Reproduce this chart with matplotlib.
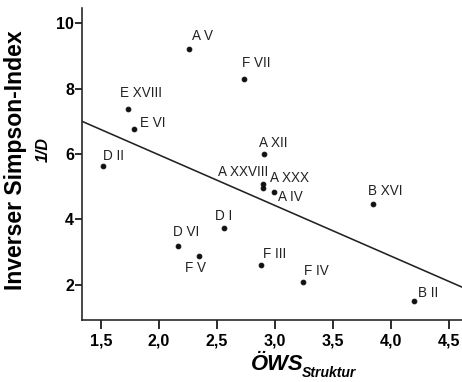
import numpy as np
import matplotlib.pyplot as plt

plt.rcParams['font.family'] = ['Liberation Sans', 'DejaVu Sans']

# data
names = ['A V', 'F VII', 'E XVIII', 'E VI', 'D II', 'A XII', 'A XXVIII', 'A XXX',
         'A IV', 'B XVI', 'F III', 'F IV', 'B II', 'D VI', 'F V', 'D I']
ows = np.array([2.26, 2.73, 1.73, 1.78, 1.52, 2.905, 2.90, 2.90,
                2.99, 3.845, 2.88, 3.24, 4.20, 2.16, 2.345, 2.56])
simpson = np.array([9.21, 8.29, 7.37, 6.76, 5.63, 6.00, 5.08, 4.96,
                    4.84, 4.47, 2.61, 2.09, 1.51, 3.19, 2.89, 3.74])

xticks = [1.5, 2.0, 2.5, 3.0, 3.5, 4.0, 4.5]
yticks = [2, 4, 6, 8, 10]

# label offsets in px (dx, dy, ha)
offsets = {
    'A V': (3, 13, 'left'), 'F VII': (-2, 16, 'left'), 'E XVIII': (-8, 16, 'left'),
    'E VI': (6, 6, 'left'), 'D II': (0, 10, 'left'), 'A XII': (-5, 11, 'left'),
    'A XXVIII': (5, 12, 'right'), 'A XXX': (7, 10, 'left'), 'A IV': (4, -5, 'left'),
    'B XVI': (-5, 13, 'left'), 'F III': (2, 11, 'left'), 'F IV': (1, 11, 'left'),
    'B II': (4, 8, 'left'), 'D VI': (-5, 14, 'left'), 'F V': (-14, -12, 'left'),
    'D I': (-9, 12, 'left'),
}

W, H = 462, 382
fig = plt.figure(figsize=(W / 72, H / 72), dpi=72)
ax = fig.add_axes([82 / W, 62 / H, 380 / W, 312 / H])

xlim = (1.336, 4.612)
ax.set_xlim(xlim)
ax.set_ylim(0.93, 10.46)

ax.scatter(ows, simpson, s=22, c='#111111', zorder=3)

# linear regression
k, d = np.polyfit(ows, simpson, 1)
xs = np.array(xlim)
ax.plot(xs, k * xs + d, color='#222222', lw=1.6)

for n, x, y in zip(names, ows, simpson):
    dx, dy, ha = offsets[n]
    ax.annotate(n, (x, y), xytext=(dx, dy), textcoords='offset points',
                ha=ha, va='center', fontsize=13.5, color='#222222')

ax.spines['top'].set_visible(False)
ax.spines['right'].set_visible(False)
for s in ['left', 'bottom']:
    ax.spines[s].set_linewidth(1.6)
    ax.spines[s].set_color('#222222')

ax.set_xticks(xticks)
ax.set_xticklabels([f'{t:.1f}'.replace('.', ',') for t in xticks])
ax.set_yticks(yticks)
ax.tick_params(axis='x', length=9, width=1.6, pad=4, labelsize=16)
ax.tick_params(axis='y', length=7, width=1.6, pad=1, labelsize=16)
for lab in ax.get_xticklabels() + ax.get_yticklabels():
    lab.set_fontweight('bold')

fig.text(16 / W, 1 - 160 / H, 'Inverser Simpson-Index', rotation=90,
         ha='center', va='center', fontsize=23, fontweight='bold')
fig.text(43 / W, 1 - 150 / H, '1/D', rotation=90, ha='center', va='center',
         fontsize=16, fontweight='bold', style='italic')
fig.text(251 / W, 1 - 365 / H, 'ÖWS', ha='left', va='center',
         fontsize=22, fontweight='bold', style='italic')
fig.text(302 / W, 1 - 373 / H, 'Struktur', ha='left', va='center',
         fontsize=14, fontweight='bold', style='italic')

fig.savefig('out.png', dpi=72)
